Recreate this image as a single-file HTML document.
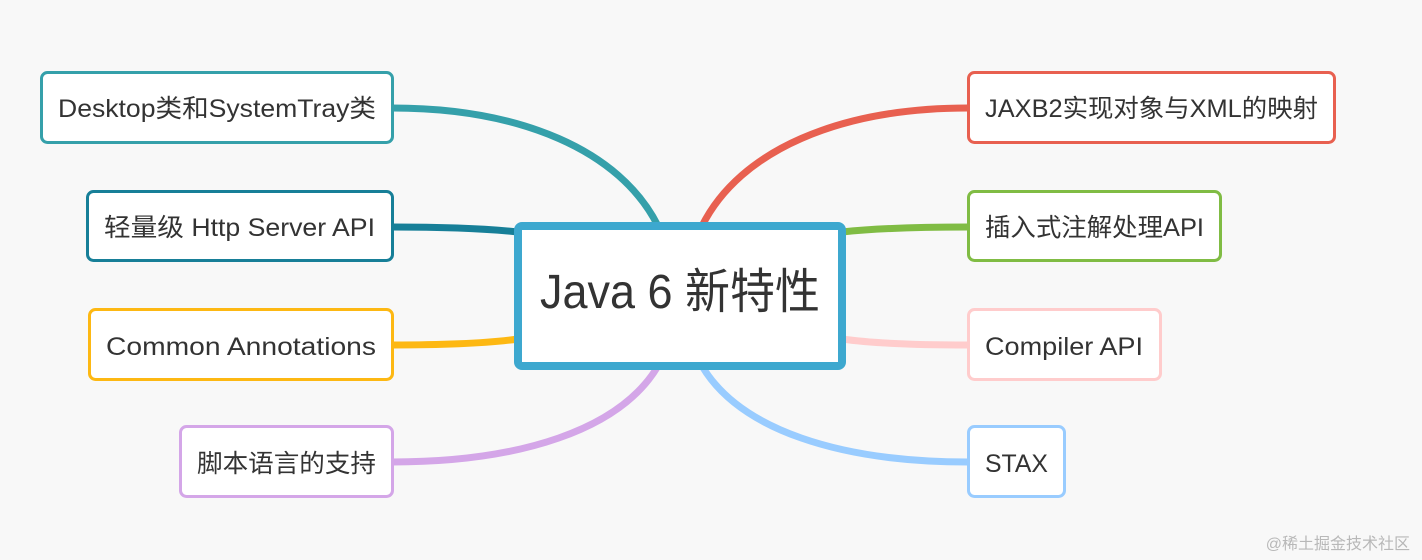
<!DOCTYPE html>
<html><head><meta charset="utf-8"><style>
html,body{margin:0;padding:0;background:#f8f8f8;}
svg{display:block}
text{font-family:"Liberation Sans","Noto Sans CJK SC",sans-serif;fill:#333;}
</style></head><body>
<svg width="1422" height="560" viewBox="0 0 1422 560" xmlns="http://www.w3.org/2000/svg">
<rect width="1422" height="560" fill="#f8f8f8"/>
<g fill="none" stroke-width="7" stroke-linecap="round">
<path d="M392 108 C520 108 620 150 658 226" stroke="#35A0AA"/>
<path d="M392 227 C450 227 490 229 518 232" stroke="#177F98"/>
<path d="M392 345 C450 345 490 343 518 339" stroke="#FDB813"/>
<path d="M392 462 C520 462 620 430 658 366" stroke="#D4A6E8"/>
<path d="M968 108 C840 108 740 150 702 226" stroke="#E86050"/>
<path d="M968 227 C910 227 870 229 842 232" stroke="#80BC44"/>
<path d="M968 345 C910 345 870 343 842 339" stroke="#FFCCCC"/>
<path d="M968 462 C840 462 740 430 702 366" stroke="#99CCFF"/>
</g>
<g fill="#fff" stroke-width="3">
<rect x="41.5" y="72.5" width="351" height="70" rx="6" stroke="#35A0AA"/>
<rect x="87.5" y="191.5" width="305" height="69" rx="6" stroke="#177F98"/>
<rect x="89.5" y="309.5" width="303" height="70" rx="6" stroke="#FDB813"/>
<rect x="180.5" y="426.5" width="212" height="70" rx="6" stroke="#D4A6E8"/>
<rect x="968.5" y="72.5" width="366" height="70" rx="6" stroke="#E86050"/>
<rect x="968.5" y="191.5" width="252" height="69" rx="6" stroke="#80BC44"/>
<rect x="968.5" y="309.5" width="192" height="70" rx="6" stroke="#FFCCCC"/>
<rect x="968.5" y="426.5" width="96" height="70" rx="6" stroke="#99CCFF"/>
</g>
<rect x="518" y="226" width="324" height="140" rx="4" fill="#fff" stroke="#3DA8CF" stroke-width="8"/>
<g font-size="25" lengthAdjust="spacingAndGlyphs">
<text x="58" y="117" textLength="318" lengthAdjust="spacingAndGlyphs">Desktop类和SystemTray类</text>
<text x="104" y="236" textLength="271" lengthAdjust="spacingAndGlyphs">轻量级 Http Server API</text>
<text x="106" y="355" textLength="270" lengthAdjust="spacingAndGlyphs">Common Annotations</text>
<text x="197" y="472" textLength="179" lengthAdjust="spacingAndGlyphs">脚本语言的支持</text>
<text x="985" y="117" textLength="333" lengthAdjust="spacingAndGlyphs">JAXB2实现对象与XML的映射</text>
<text x="985" y="236" textLength="219" lengthAdjust="spacingAndGlyphs">插入式注解处理API</text>
<text x="985" y="355" textLength="158" lengthAdjust="spacingAndGlyphs">Compiler API</text>
<text x="985" y="472" textLength="63" lengthAdjust="spacingAndGlyphs">STAX</text>
</g>
<text x="540" y="308" font-size="48" textLength="280" lengthAdjust="spacingAndGlyphs">Java 6 新特性</text>
<text x="1410" y="549" font-size="16" text-anchor="end" style="fill:#b8b8b8">@稀土掘金技术社区</text>
</svg>
</body></html>
